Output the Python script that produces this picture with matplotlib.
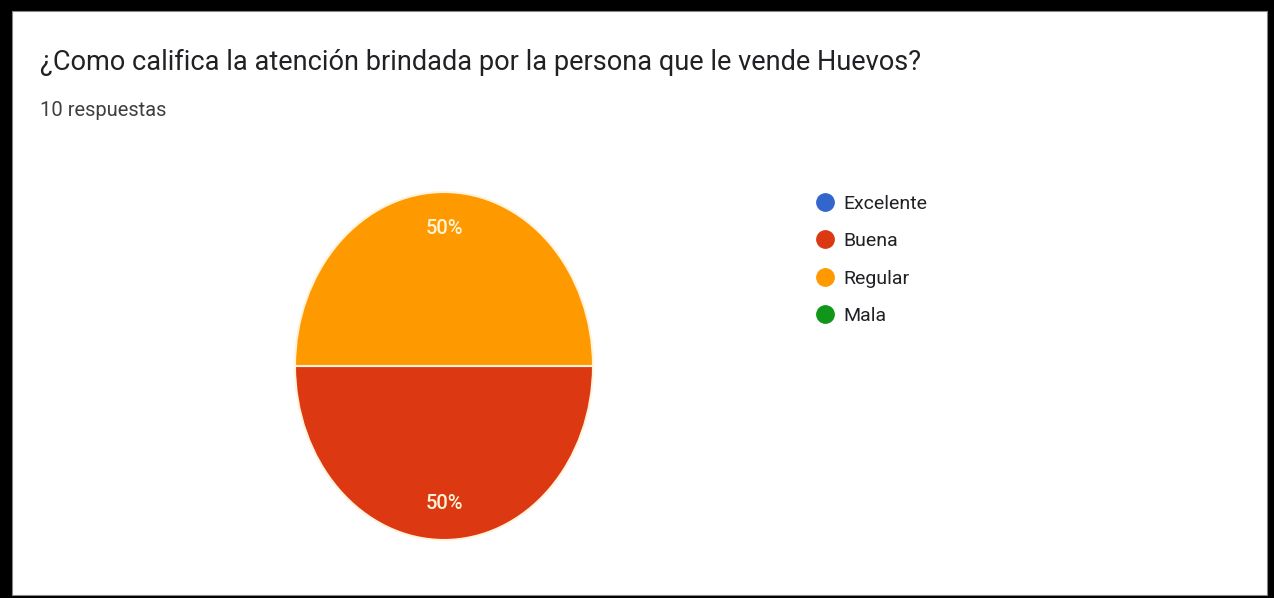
import matplotlib
matplotlib.use('Agg')
import matplotlib.pyplot as plt
from matplotlib.lines import Line2D
from matplotlib.patches import Rectangle

plt.rcParams['font.family'] = ['Roboto', 'DejaVu Sans']

# Data
categorias = ['Excelente', 'Buena', 'Regular', 'Mala']
respuestas = [0, 5, 5, 0]
colores = ['#3366cc', '#dc3912', '#ff9900', '#109618']
titulo = '¿Como califica la atención brindada por la persona que le vende Huevos?'
subtitulo = '10 respuestas'

W, H = 1274, 598
fig = plt.figure(figsize=(W / 100, H / 100), dpi=100)
fig.patch.set_facecolor('black')

# white card inside the black frame
fig.patches.append(Rectangle((12 / W, 3 / H), (1267 - 12) / W, (587 - 3) / H,
                             transform=fig.transFigure, facecolor='white',
                             edgecolor='#888888', linewidth=0.8, zorder=-1))

# Title texts
fig.text(40 / W, 1 - 62 / H, titulo, fontsize=19.5, color='#202124',
         ha='left', va='center')
fig.text(40 / W, 1 - 110 / H, subtitulo, fontsize=14.5, color='#3c4043',
         ha='left', va='center')

# Pie (stretched vertically like the screenshot)
cx, cy, rx, ry = 444, 366, 149, 174
ax = fig.add_axes([(cx - rx) / W, (H - cy - ry) / H, 2 * rx / W, 2 * ry / H])
vals = [v for v in respuestas if v > 0]
cols = [c for v, c in zip(respuestas, colores) if v > 0]
ax.pie(vals, colors=cols, startangle=0, counterclock=False, radius=1,
       autopct='%1.0f%%', pctdistance=0.79,
       wedgeprops=dict(edgecolor='#fff3dc', linewidth=1.5),
       textprops=dict(color='#fff3d6', fontsize=14.5, fontweight='medium'))
ax.set_aspect('auto')
ax.set_xlim(-1, 1)
ax.set_ylim(-1, 1)

# Legend
handles = [Line2D([], [], linestyle='none', marker='o', markersize=12.5,
                  markerfacecolor=c, markeredgecolor=c) for c in colores]
fig.legend(handles, categorias, loc='upper left',
           bbox_to_anchor=(806 / W, 1 - 185 / H), frameon=False,
           fontsize=14, handlelength=1.0, handletextpad=0.4,
           labelspacing=1.0, borderpad=0, labelcolor='#202124')

fig.savefig('out.png', dpi=100, facecolor=fig.get_facecolor())
